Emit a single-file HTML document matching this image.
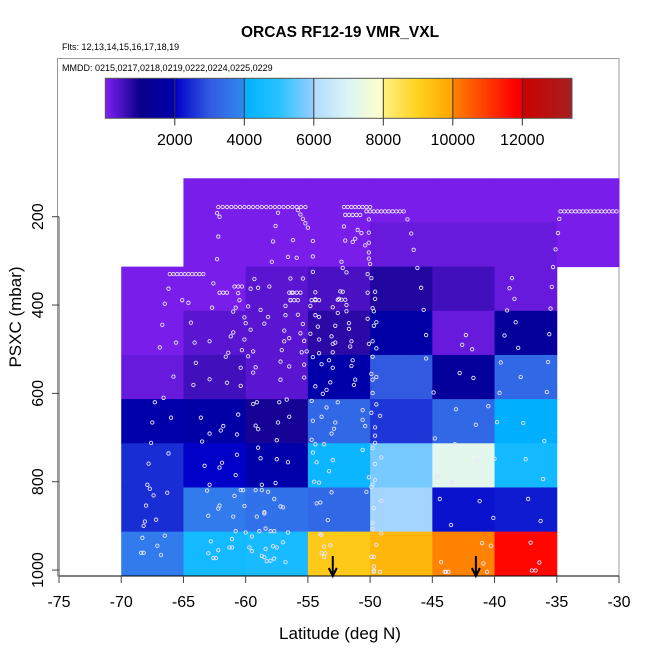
<!DOCTYPE html>
<html><head><meta charset="utf-8"><style>
html,body{margin:0;padding:0;background:#fff;}
svg{display:block;font-family:"Liberation Sans",sans-serif;}
</style></head><body>
<svg id="chart" width="650" height="650" viewBox="0 0 650 650">
<text x="340" y="37" text-anchor="middle" font-size="15.5" font-weight="bold">ORCAS RF12-19 VMR_VXL</text>
<text x="62" y="50" font-size="9">Flts: 12,13,14,15,16,17,18,19</text>
<rect x="57.5" y="58.5" width="561.5" height="517.5" fill="none" stroke="#999" stroke-width="1"/>
<text x="62" y="71" font-size="9">MMDD: 0215,0217,0218,0219,0222,0224,0225,0229</text>
<defs><linearGradient id="cg" x1="0" x2="1" y1="0" y2="0"></linearGradient></defs>
<g id="cells"></g>
<g id="pts"></g>
<g id="arrows"></g>
<g id="cbar"></g>
<g id="axes"></g>
<text x="340" y="639" text-anchor="middle" font-size="17">Latitude (deg N)</text>
<text transform="translate(21,317) rotate(-90)" text-anchor="middle" font-size="17">PSXC (mbar)</text>
</svg>
<script>
// ---- data ----
const lonEdges = [-70,-65,-60,-55,-50,-45,-40];
const rowTop1 = [113, 213];               // upper rows span -65..-30
const rowTop1Vals = [[60,60,60,60,60,60,60],[60,60,60,200,200,200,60]];
const rowLonsTop = [-65,-60,-55,-50,-45,-40,-35];
const rowTops = [313,413,513,613,713,813,913];
const row313 = [60,60,330,470,800,530,200];
const row413 = [60,330,330,730,1900,200,1500];
const row513 = [200,530,330,1990,3000,1500,3300];
const row613 = [1990,1900,900,3300,2600,3300,4000];
const row713 = [2500,2000,1990,4300,5700,7200,4500];
const row813 = [2500,3700,3500,3300,5995,2200,2300];
const row913 = [3700,4500,4600,9200,9600,10000,11700];
const xTicks = [-75,-70,-65,-60,-55,-50,-45,-40,-35,-30];
const yTicks = [200,400,600,800,1000];
const cbTicks = [2000,4000,6000,8000,10000,12000];
const arrowLons = [-53,-41.5];
const ptLon = [-62.3,-62.1,-62.2,-62.3,-57.4,-57.6,-57.8,-57.9,-56.6,-55.9,-56.2,-55.8,-55.6,-55.4,-55.2,-55.0,-54.6,-54.6,-52.1,-52.0,-52.3,-52.2,-51.9,-51.0,-50.7,-51.4,-51.2,-50.4,-50.1,-50.1,-50.1,-50.1,-50.1,-50.0,-47.0,-46.7,-46.5,-46.2,-45.9,-45.7,-45.5,-34.8,-34.9,-35.1,-35.3,-35.4,-35.5,-38.6,-38.8,-38.4,-39.0,-38.3,-39.2,-35.6,-38.1,-39.5,-35.7,-37.9,-39.6,-35.8,-42.3,-42.6,-41.8,-42.8,-41.7,-44.9,
-66.2,-62.6,-66.5,-64.6,-66.7,-65.6,-66.9,-65.8,-62.7,-64.4,-64.1,-62.9,-64.0,-61.4,-61.6,-60.3,-60.4,-62.9,-61.5,-64.2,-60.4,-60.6,-60.5,-65.1,-59.3,-59.0,-58.1,-59.6,-59.8,-60.8,-61.0,-58.8,-60.1,-60.0,-59.6,-58.2,-58.5,-60.1,-59.4,-61.0,-61.2,-56.8,-55.8,-55.4,-56.9,-55.6,-56.5,-56.9,-55.3,-55.5,-56.4,-55.4,-56.3,-56.4,-56.8,-59.8,-57.1,-57.2,-56.5,-55.3,-57.2,-59.2,-59.4,-55.1,
-54.6,-54.4,-54.4,-54.8,-54.4,-54.1,-54.2,-54.8,-54.1,-53.1,-53.0,-52.8,-52.4,-52.2,-52.5,-51.9,-53.0,-52.6,-51.9,-51.7,-52.8,-51.7,-51.5,-51.6,-53.0,-54.1,-54.6,-53.3,-53.9,-53.0,-51.4,-51.5,-51.2,-53.2,-54.4,-51.3,-53.5,-53.8,-55.3,-50.2,-49.9,-50.2,-49.6,-49.6,-49.8,-49.7,-50.2,-49.5,-49.7,-49.8,-50.1,-49.5,-49.8,-45.5,-49.9,-49.5,-49.8,-49.8,
-67.3,-67.5,-66.0,-67.6,-66.2,-67.8,-67.9,-67.7,-67.4,-66.3,-68.0,-67.2,-68.1,-68.2,-68.3,-66.5,-67.1,-68.4,-68.2,-66.8,-66.6,
-63.6,-63.5,-62.9,-61.8,-62.0,-60.6,-60.7,-63.3,-61.9,-62.1,-60.7,-60.8,-62.9,-63.1,-60.4,-60.2,-60.9,-60.1,-62.1,-62.2,-63.0,-61.0,-61.1,-60.8,-62.8,-62.2,-63.0,-62.6,-62.4,-61.1,-61.3,
-59.4,-59.1,-57.3,-56.5,-59.2,-59.0,-57.4,-57.5,-59.0,-58.8,-57.5,-56.6,-58.7,-57.6,-59.2,-58.7,-58.2,-57.7,-57.2,-57.0,-58.5,-59.1,-58.5,-56.6,-60.0,-59.5,-58.9,-58.4,-58.0,-57.7,-57.0,-57.8,-58.4,-57.5,-59.7,-59.5,-58.5,-58.7,-58.3,-58.0,-57.7,-56.8,-56.7,
-54.7,-52.6,-50.6,-50.6,-54.6,-53.9,-52.8,-50.4,-53.1,-52.9,-54.7,-54.4,-53.7,-50.6,-54.6,-53.0,-54.3,-53.3,-54.5,-54.1,-50.3,-53.1,-54.3,-54.0,-53.4,-53.9,-54.0,-53.2,-53.7,-53.6,-53.9,-53.7,-53.5,
-49.9,-49.2,-49.6,-49.6,-49.6,-49.8,-49.1,-49.6,-50.1,-49.6,-49.8,-49.9,-49.1,-49.7,-49.8,-49.8,-49.1,-49.5,-49.7,-49.9,-49.7,-49.7,-49.2,-49.7,-49.5,
-43.1,-41.5,-44.8,-43.2,-41.4,-44.6,-43.4,-41.2,-44.4,-40.1,-43.5,-41.0,-40.3,-44.3,-40.9,-43.7,-44.0,-43.9,-40.6,-40.5,
-37.7,-39.8,-36.0,-37.5,-40.0,-36.1,-37.3,-36.3,-37.1,-36.4,-37.0,-36.7,-36.6];
const ptP = [192,200,245,296,191,221,256,302,291,293,253,185,195,205,215,225,255,290,222,254,302,316,326,230,237,257,250,265,206,236,259,281,295,307,206,238,275,316,361,411,468,205,237,274,314,359,408,339,362,386,412,439,469,466,497,530,529,563,599,597,468,490,500,554,565,598,
363,351,397,395,445,485,496,562,406,440,485,482,531,508,517,502,542,568,576,581,583,373,389,389,341,361,358,363,403,406,415,411,428,441,456,427,442,478,505,462,471,423,422,443,458,464,475,482,481,507,340,340,372,389,402,516,502,528,539,535,569,541,553,505,
325,371,387,402,423,427,449,465,478,471,488,485,369,370,386,400,405,418,414,441,447,454,482,494,507,509,518,525,534,542,525,538,569,575,584,581,592,601,564,372,339,330,370,386,407,414,431,439,447,482,488,498,517,521,556,563,569,599,
620,666,655,712,736,759,807,816,831,825,854,886,890,900,927,922,945,961,961,966,610,
655,709,691,674,684,648,693,764,757,768,739,785,807,820,819,819,832,855,854,861,877,879,930,912,935,955,962,973,973,949,949,
624,620,620,653,673,681,666,706,723,747,749,756,807,803,819,819,823,839,856,858,869,879,872,915,915,924,912,906,912,912,937,946,952,949,949,957,971,968,980,979,974,982,
614,617,620,638,660,662,653,666,674,691,680,705,715,715,728,734,751,756,776,800,802,823,824,849,847,887,921,919,944,947,962,962,970,
632,644,651,677,696,712,724,745,760,790,796,806,812,843,860,893,907,917,943,970,970,992,1001,1004,1004,
625,636,671,702,715,753,789,802,844,839,882,898,939,945,982,985,1004,1004,1004,1004,
629,667,665,708,749,748,794,839,889,938,983,1001,1001];
// flight tracks (level legs)
const trackLon = [-62.2,-61.85,-61.5,-61.15,-60.8,-60.45,-60.1,-59.75,-59.4,-59.05,-58.7,-58.35,-58.0,-57.65,-57.3,-56.95,-56.6,-56.25,-55.9,-55.55,-55.2,
-52.1,-51.8,-51.5,-51.2,-50.9,-50.6,-50.3,-50.0,
-52.0,-51.7,-51.4,-51.1,-50.8,
-50.3,-50.0,-49.7,-49.4,-49.1,-48.8,-48.5,-48.2,-47.9,-47.6,-47.3,
-34.7,-34.4,-34.1,-33.8,-33.5,-33.2,-32.9,-32.6,-32.3,-32.0,-31.7,-31.4,-31.1,-30.8,-30.5,-30.2,
-66.1,-65.8,-65.5,-65.2,-64.9,-64.6,-64.3,-64.0,-63.7,-63.4,
-60.9,-60.6,-60.3,-62.1,-61.8,-61.5,-56.5,-56.2,-55.9,-55.6,-54.7,-54.4,-54.1,-56.4,-56.1,-55.8,-52.6,-52.3,-52.0];
const trackP = [178,178,178,178,178,178,178,178,178,178,178,178,178,178,178,178,178,178,178,178,178,
178,178,178,178,178,178,178,178,
196,196,196,196,196,
188,188,188,188,188,188,188,188,188,188,188,
188,188,188,188,188,188,188,188,188,188,188,188,188,188,188,188,
330,330,330,330,330,330,330,330,330,330,
358,358,358,372,372,372,372,372,372,372,389,389,389,389,389,389,388,388,388];

// ---- scales ----
const X0=59, X1=619, LON0=-75, LON1=-30;
const xs = v => X0 + (v-LON0)*(X1-X0)/(LON1-LON0);
const ys = p => 216.7 + (p-200)*0.4417;
const CB0=105.3, CBW=69.5/2000, CBMAX=13430;
const cbx = v => CB0 + v*CBW;
const stops=[[0,[128,32,240]],[1000,[10,0,140]],[1990,[0,0,170]],[2000,[0,0,200]],[3000,[50,90,225]],[3990,[48,136,240]],[4000,[0,176,255]],[5000,[40,195,255]],[5990,[150,205,255]],[6000,[176,220,255]],[7000,[220,245,245]],[7990,[255,255,200]],[8000,[255,240,128]],[9000,[255,210,30]],[9990,[255,165,0]],[10000,[255,130,0]],[11800,[255,0,0]],[11990,[240,0,0]],[12000,[205,0,0]],[13430,[165,32,32]]];
function col(v){
  for(let i=1;i<stops.length;i++){ if(v<=stops[i][0]){const a=stops[i-1],b=stops[i];const t=(v-a[0])/(b[0]-a[0]);
    return 'rgb('+a[1].map((c,k)=>Math.round(c+(b[1][k]-c)*t)).join(',')+')';}}
  return 'rgb(165,32,32)';
}
const NS='http://www.w3.org/2000/svg';
function mk(tag,attrs,parent){const e=document.createElementNS(NS,tag);for(const k in attrs)e.setAttribute(k,attrs[k]);parent.appendChild(e);return e;}

// ---- cells ----
const cells=document.getElementById('cells');
rowTop1.forEach((pt,r)=>{
  rowLonsTop.forEach((lon,i)=>{
    const e=mk('rect',{x:xs(lon),y:ys(pt),width:xs(lon+5)-xs(lon)+0.5,height:ys(pt+100)-ys(pt)+0.5,fill:col(rowTop1Vals[r][i])},cells);
    
    
  });
});
const rows=[row313,row413,row513,row613,row713,row813,row913];
rows.forEach((vals,r)=>{
  const pt=rowTops[r];
  lonEdges.forEach((lon,i)=>{
    const e=mk('rect',{x:xs(lon),y:ys(pt),width:xs(lon+5)-xs(lon)+0.5,height:ys(pt+100)-ys(pt)+0.5,fill:col(vals[i])},cells);
    
    
  });
});
// ---- points ----
const pts=document.getElementById('pts');
function dot(lon,p){
  const e=mk('circle',{cx:xs(lon),cy:ys(p),r:1.7,fill:'none',stroke:'#e8e4ff','stroke-width':0.9},pts);
  
  
}
for(let i=0;i<Math.min(ptLon.length,ptP.length);i++) dot(ptLon[i],ptP[i]);
for(let i=0;i<trackLon.length;i++) dot(trackLon[i],trackP[i]);
// ---- arrows ----
const ar=document.getElementById('arrows');
arrowLons.forEach(l=>{
  const x=xs(l);
  const g=mk('g',{},ar);
  
  
  mk('line',{x1:x,y1:556,x2:x,y2:575,stroke:'#000','stroke-width':2},g);
  mk('path',{d:`M${x-4},${568} L${x},${576} L${x+4},${568}`,fill:'none',stroke:'#000','stroke-width':2},g);
});
// ---- colorbar ----
const cb=document.getElementById('cbar');
const grad=document.getElementById('cg');
stops.forEach(s=>{mk('stop',{offset:(s[0]/CBMAX),'stop-color':'rgb('+s[1].join(',')+')'},grad);});
const cr=mk('rect',{x:CB0,y:78.3,width:cbx(CBMAX)-CB0,height:40,fill:'url(#cg)',stroke:'#555','stroke-width':1},cb);


cbTicks.forEach(v=>{
  mk('line',{x1:cbx(v),y1:78.3,x2:cbx(v),y2:125.5,stroke:'#333','stroke-width':1},cb);
  const t=mk('text',{x:cbx(v),y:145,'text-anchor':'middle','font-size':16},cb);
  t.textContent=v;
  
  
});
// ---- axes ----
const ax=document.getElementById('axes');
mk('line',{x1:X0,y1:576,x2:X1,y2:576,stroke:'#000','stroke-width':1},ax);
mk('line',{x1:X0,y1:ys(200),x2:X0,y2:576,stroke:'#444','stroke-width':1},ax);
xTicks.forEach(v=>{
  mk('line',{x1:xs(v),y1:576,x2:xs(v),y2:583,stroke:'#444','stroke-width':1},ax);
  const t=mk('text',{x:xs(v),y:607,'text-anchor':'middle','font-size':16},ax);
  t.textContent=v;
  
  
});
yTicks.forEach(v=>{
  mk('line',{x1:52,y1:ys(v),x2:X0,y2:ys(v),stroke:'#444','stroke-width':1},ax);
  const t=mk('text',{transform:`translate(43,${ys(v)}) rotate(-90)`,'text-anchor':'middle','font-size':16},ax);
  t.textContent=v;
  
  
});
</script>
</body></html>
